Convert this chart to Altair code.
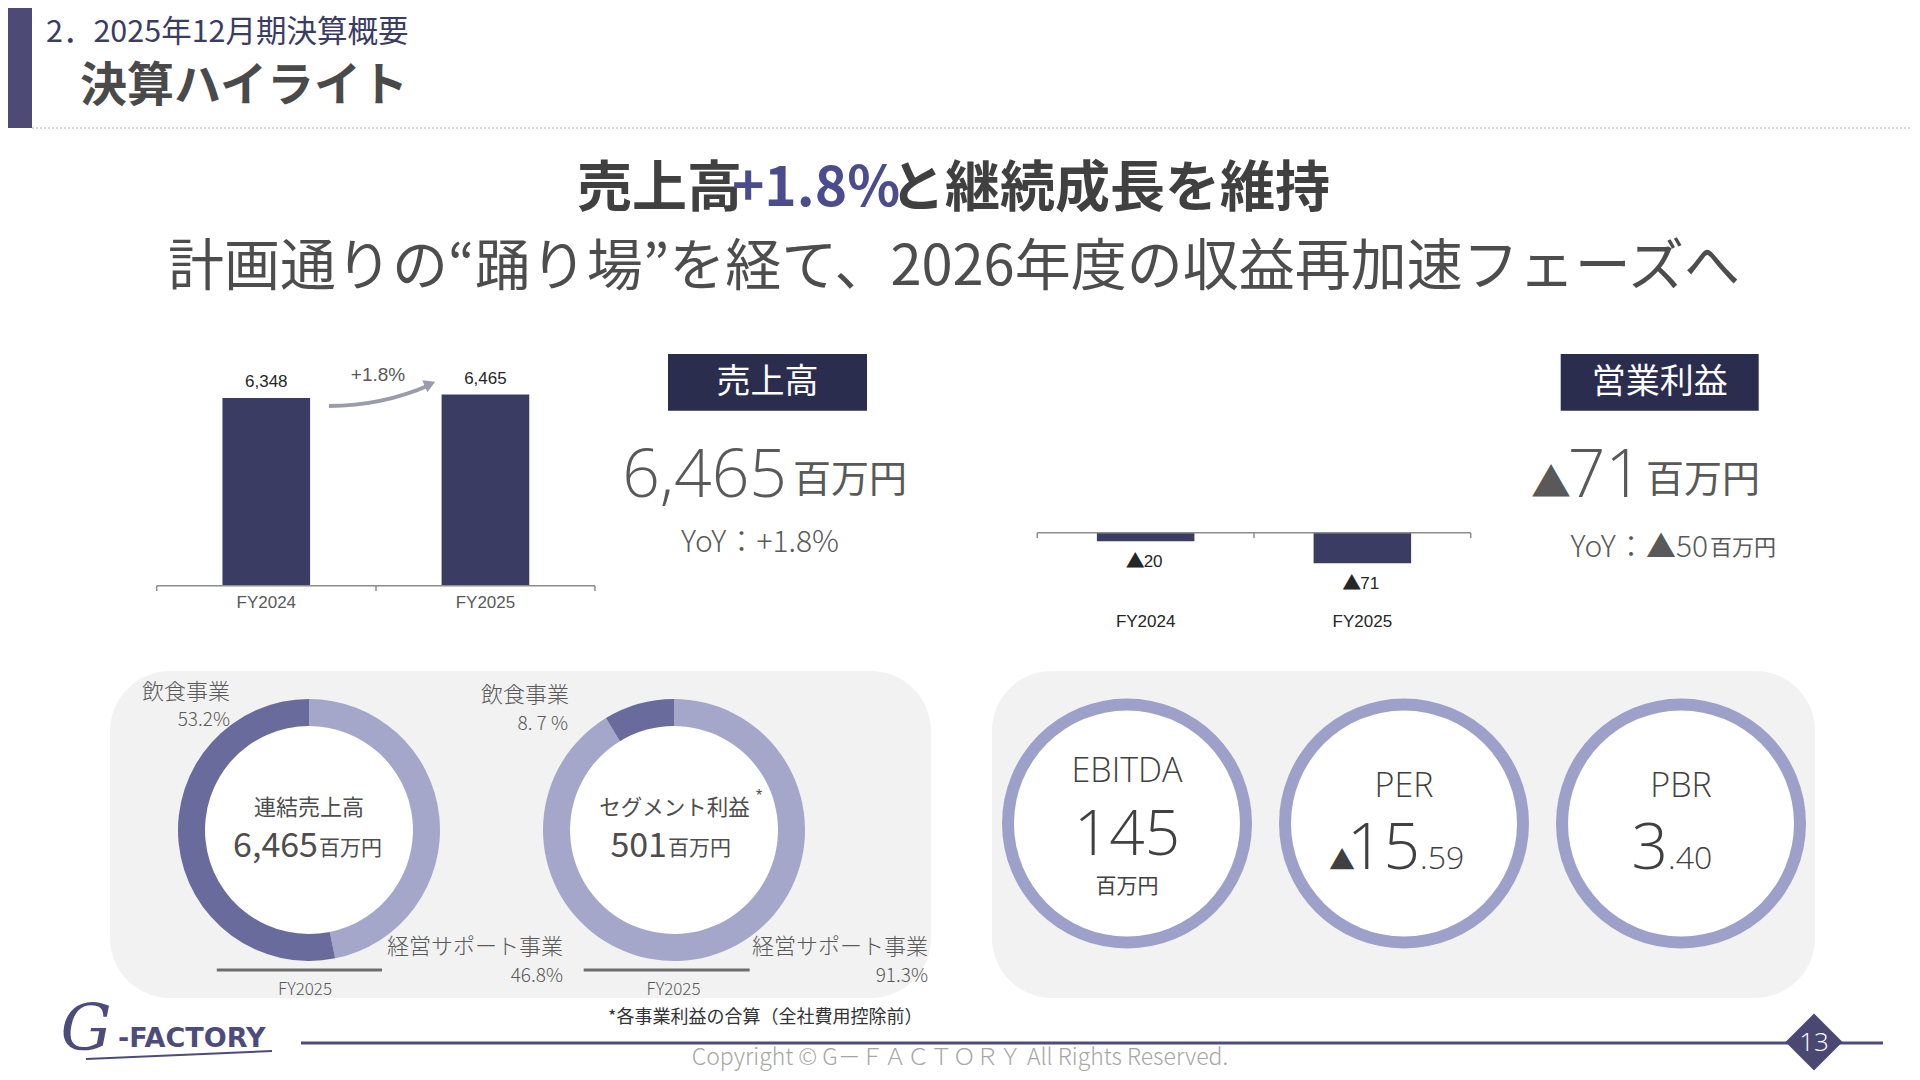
import math
import altair as alt
import pandas as pd

# ---------------- data ----------------
years = ["FY2024", "FY2025"]
sales = [6348, 6465]                 # 売上高（百万円）
op_profit = [-20, -71]               # 営業利益（百万円）
segments = ["経営サポート事業", "飲食事業"]
sales_mix = [46.8, 53.2]             # 連結売上高 構成比 (%)
profit_mix = [91.3, 8.7]             # セグメント利益 構成比 (%)
sales_total = 6465
seg_profit_total = 501
sales_yoy = 1.8
op_total = -71
op_yoy = -50
ebitda = 145
per = -15.59
pbr = 3.40

# ---------------- styles ----------------
JP = "Noto Sans CJK JP"
LAT = "Liberation Sans"
LIGHTF = "Open Sans"
NAVY = "#3a3c63"
BOX = "#2b2d4e"
DARK = "#686b9c"
LIGHT = "#a4a7c9"
RING = "#9da1c9"
GREY = "#595959"
HEAD = "#404040"
PANEL = "#f2f2f2"
LOGO = "#4d4b7c"
OFF = 8


def px(v):
    return v - OFF


def tri(v):
    return ("▲" if v < 0 else "") + f"{abs(v):,}"


one = pd.DataFrame({"k": [0]})
B = alt.Chart(one)


def text(s, x, y, size, color=GREY, font=JP, weight="normal", align="center",
         baseline="middle", **kw):
    return B.mark_text(fontSize=size, color=color, font=font, fontWeight=weight,
                       align=align, baseline=baseline, **kw).encode(
        x=alt.value(px(x)), y=alt.value(px(y)), text=alt.value(s))


def rect(x1, y1, x2, y2, color, radius=0):
    m = B.mark_rect(color=color, cornerRadius=radius) if radius else B.mark_rect(color=color)
    return m.encode(x=alt.value(px(x1)), x2=alt.value(px(x2)),
                    y=alt.value(px(y1)), y2=alt.value(px(y2)))


def rule(x1, y1, x2, y2, color, width=1.0, dash=None):
    kw = dict(color=color, strokeWidth=width)
    if dash:
        kw["strokeDash"] = dash
    return B.mark_rule(**kw).encode(x=alt.value(px(x1)), x2=alt.value(px(x2)),
                                    y=alt.value(px(y1)), y2=alt.value(px(y2)))


def disc(cx, cy, d, color):
    return B.mark_circle(size=d * d, color=color, opacity=1).encode(
        x=alt.value(px(cx)), y=alt.value(px(cy)))


layers = []

# ---------------- header ----------------
layers += [
    rect(0, 0, 32, 128, "#4d4b75"),
    rule(32, 128, 1912, 128, "#b4b4b4", 1, [2, 2]),
    text("2．2025年12月期決算概要", 46, 33, 30.5, "#3b3c64", align="left"),
    text("決算ハイライト", 80, 87, 47, "#4a4a4a", weight="bold", align="left"),
    text("売上高", 742, 189, 55, HEAD, weight="bold", align="right"),
    text(f"+{sales_yoy}%", 816, 189, 55, "#4b4c8e", weight="bold"),
    text("と継続成長を維持", 890, 189, 55, HEAD, weight="bold", align="left"),
    text("計画通りの“踊り場”を経て、2026年度の収益再加速フェーズへ", 954, 268, 56, "#4d4d4d"),
]

# ---------------- 売上高 bar chart ----------------
sales_df = pd.DataFrame({"year": years, "value": sales,
                         "label": [f"{v:,}" for v in sales]})
sx = alt.X("year:N", scale=alt.Scale(domain=years, range=[px(156.7), px(595)],
                                     paddingInner=0.6, paddingOuter=0.3), axis=None)
sy = alt.Y("value:Q", scale=alt.Scale(domain=[0, 7000], range=[px(585.7), px(378.7)]),
           axis=None)
sales_layer = alt.layer(
    alt.Chart(sales_df).mark_bar(color=NAVY).encode(x=sx, y=sy),
    alt.Chart(sales_df).mark_text(dy=-16, fontSize=17, font=LAT, color="#262626")
    .encode(x=sx, y=sy, text="label:N"),
    alt.Chart(sales_df).mark_text(fontSize=17, font=LAT, color=GREY)
    .encode(x=sx, y=alt.value(px(603)), text="year:N"),
)
layers += [
    sales_layer,
    rule(156.7, 585.7, 595, 585.7, "#8c8c8c", 1.5),
    rule(156.7, 585.7, 156.7, 591, "#8c8c8c", 1.5),
    rule(376, 585.7, 376, 591, "#8c8c8c", 1.5),
    rule(595, 585.7, 595, 591, "#8c8c8c", 1.5),
    text(f"+{sales_yoy}%", 378, 375, 19, GREY, font=LAT),
    B.mark_arc(theta=2.7316, theta2=3.1416, innerRadius=251, outerRadius=255,
               color="#9b9bab").encode(x=alt.value(px(329)), y=alt.value(px(153))),
    B.mark_point(shape="triangle-right", size=170, filled=True, color="#9b9bab",
                 opacity=1, angle=336.5).encode(x=alt.value(px(430)), y=alt.value(px(384))),
]

# ---------------- 売上高 KPI ----------------
layers += [
    rect(668, 354, 867, 410.7, BOX),
    text("売上高", 767.5, 383, 34, "white"),
    text(f"{sales_total:,}", 787, 496.7, 66, GREY, font=LIGHTF, weight=300,
         align="right", baseline="alphabetic"),
    text("百万円", 793, 492, 38, GREY, align="left", baseline="alphabetic"),
    text(f"YoY：+{sales_yoy}%", 681, 552, 30, GREY, weight=300, align="left",
         baseline="alphabetic"),
]

# ---------------- 営業利益 bar chart ----------------
op_df = pd.DataFrame({"year": years, "value": op_profit,
                      "mark": ["▲" if v < 0 else "" for v in op_profit],
                      "num": [f"{abs(v):,}" for v in op_profit]})
ox = alt.X("year:N", scale=alt.Scale(domain=years, range=[px(1037.3), px(1470.7)],
                                     paddingInner=0.55, paddingOuter=0.275), axis=None)
oy = alt.Y("value:Q", scale=alt.Scale(domain=[-100, 0], range=[px(575.9), px(532.7)]),
           axis=None)
op_layer = alt.layer(
    alt.Chart(op_df).mark_bar(color=NAVY).encode(x=ox, y=oy),
    alt.Chart(op_df).mark_text(dy=21, dx=-1, align="right", fontSize=19, font=JP,
                               color="#262626").encode(x=ox, y=oy, text="mark:N"),
    alt.Chart(op_df).mark_text(dy=21, dx=-2, align="left", fontSize=17, font=LAT,
                               color="#262626").encode(x=ox, y=oy, text="num:N"),
    alt.Chart(op_df).mark_text(fontSize=17, font=LAT, color="#262626")
    .encode(x=ox, y=alt.value(px(622)), text="year:N"),
)
layers += [
    op_layer,
    rule(1037.3, 532.7, 1470.7, 532.7, "#8c8c8c", 1.5),
    rule(1037.3, 532.7, 1037.3, 538, "#8c8c8c", 1.5),
    rule(1254, 532.7, 1254, 538, "#8c8c8c", 1.5),
    rule(1470.7, 532.7, 1470.7, 538, "#8c8c8c", 1.5),
]

# ---------------- 営業利益 KPI ----------------
layers += [
    rect(1560.7, 354, 1758.7, 410.7, BOX),
    text("営業利益", 1659.7, 383, 34, "white"),
    text("▲", 1571, 497, 40, GREY, align="right", baseline="alphabetic"),
    text(f"{abs(op_total)}", 1643, 496.7, 66, GREY, font=LIGHTF, weight=300,
         align="right", baseline="alphabetic"),
    text("百万円", 1646, 492, 38, GREY, align="left", baseline="alphabetic"),
    text(f"YoY：{tri(op_yoy)}", 1708, 557, 30, GREY, weight=300, align="right",
         baseline="alphabetic"),
    text("百万円", 1710, 555, 22, GREY, align="left", baseline="alphabetic"),
]

# ---------------- bottom panels ----------------
layers += [
    rect(110, 671, 931, 998, PANEL, 60),
    rect(992, 671, 1815, 998, PANEL, 60),
    disc(309, 830, 208, "white"),
    disc(674, 830, 208, "white"),
]


def donut(values, cx, cy):
    df = pd.DataFrame({"segment": segments, "share": values, "order": [0, 1]})
    return alt.Chart(df).mark_arc(innerRadius=104, outerRadius=131).encode(
        theta=alt.Theta("share:Q", stack=True),
        color=alt.Color("segment:N", scale=alt.Scale(domain=segments, range=[LIGHT, DARK]),
                        legend=None),
        order=alt.Order("order:Q"),
        x=alt.value(px(cx)), y=alt.value(px(cy)),
    )


def pct_spaced(v):
    a, b = f"{v}".split(".")
    return f"{a}. {b} %"


layers += [
    donut(sales_mix, 309, 830),
    donut(profit_mix, 674, 830),
    text("飲食事業", 142, 692, 22, GREY, weight=300, align="left"),
    text(f"{sales_mix[1]}%", 230, 720, 19, GREY, weight=300, align="right"),
    text("経営サポート事業", 387, 946.5, 22, GREY, weight=300, align="left"),
    text(f"{sales_mix[0]}%", 563, 976, 19, GREY, weight=300, align="right"),
    text("飲食事業", 481, 695, 22, GREY, weight=300, align="left"),
    text(pct_spaced(profit_mix[1]), 568, 723.5, 19, GREY, weight=300, align="right"),
    text("経営サポート事業", 752, 946.5, 22, GREY, weight=300, align="left"),
    text(f"{profit_mix[0]}%", 928, 976, 19, GREY, weight=300, align="right"),
    rule(216.8, 970, 382, 970, "#6e6e6e", 3),
    rule(583.7, 970, 749.7, 970, "#6e6e6e", 3),
    text("FY2025", 305, 990, 17, GREY, weight=300),
    text("FY2025", 673.5, 990, 17, GREY, weight=300),
    text("連結売上高", 309, 808, 22, "#4d4d4d"),
    text(f"{sales_total:,}", 318, 857, 34, "#4d4d4d", align="right", baseline="alphabetic"),
    text("百万円", 319, 855, 21, "#4d4d4d", align="left", baseline="alphabetic"),
    text("セグメント利益", 674.5, 809, 21.5, "#4d4d4d"),
    text("*", 759, 796, 16, "#4d4d4d", font=LAT),
    text(f"{seg_profit_total}", 667, 857, 34, "#4d4d4d", align="right", baseline="alphabetic"),
    text("百万円", 668, 855, 21, "#4d4d4d", align="left", baseline="alphabetic"),
    text("*各事業利益の合算（全社費用控除前）", 608, 1018, 18, "#333333", align="left"),
]

# ---------------- KPI circles ----------------
per_int, per_frac = f"{abs(per):.2f}".split(".")
pbr_int, pbr_frac = f"{pbr:.2f}".split(".")
for cx in (1127, 1404, 1681):
    layers += [disc(cx, 823.5, 250, RING), disc(cx, 823.5, 226, "white")]
layers += [
    text("EBITDA", 1127, 772, 34, HEAD, font=LIGHTF, weight=300),
    text(f"{ebitda}", 1127, 855, 62, HEAD, font=LIGHTF, weight=300, baseline="alphabetic"),
    text("百万円", 1127, 887, 21, HEAD),
    text("PER", 1404, 786.7, 34, HEAD, font=LIGHTF, weight=300),
    text("▲" if per < 0 else "", 1355, 870, 26, HEAD, align="right", baseline="alphabetic"),
    text(per_int, 1420, 869, 64, HEAD, font=LIGHTF, weight=300, align="right",
         baseline="alphabetic"),
    text("." + per_frac, 1420, 869, 32, HEAD, font=LIGHTF, weight=300, align="left",
         baseline="alphabetic"),
    text("PBR", 1681, 786.7, 34, HEAD, font=LIGHTF, weight=300),
    text(pbr_int, 1668, 869, 64, HEAD, font=LIGHTF, weight=300, align="right",
         baseline="alphabetic"),
    text("." + pbr_frac, 1668, 869, 32, HEAD, font=LIGHTF, weight=300, align="left",
         baseline="alphabetic"),
]

# ---------------- footer ----------------
layers += [
    rule(301, 1043, 1883, 1043, "#4f4c78", 3),
    B.mark_point(shape="diamond", size=57 * 57, filled=True, color="#4a4873", opacity=1)
    .encode(x=alt.value(px(1814)), y=alt.value(px(1042))),
    text("13", 1814, 1043, 26, "white", font=LIGHTF, weight=300),
    text("Copyright © G－ＦＡＣＴＯＲＹ All Rights Reserved.", 960, 1058, 23, "#a6a6a6",
         weight=300),
    rule(86, 1059, 272, 1051, LOGO, 2),
    text("G", 86, 1031, 64, LOGO, font="DejaVu Serif", fontStyle="italic"),
    text("-FACTORY", 118, 1039, 27, LOGO, font="DejaVu Sans", weight="bold", align="left"),
]

chart = alt.layer(*layers).resolve_scale(
    x="independent", y="independent", theta="independent", color="independent"
).properties(
    width=1904, height=1064, padding=0,
    autosize=alt.AutoSizeParams(type="none"),
).configure_view(stroke=None)

chart.save("out.html", embed_options={"renderer": "svg", "actions": False})
